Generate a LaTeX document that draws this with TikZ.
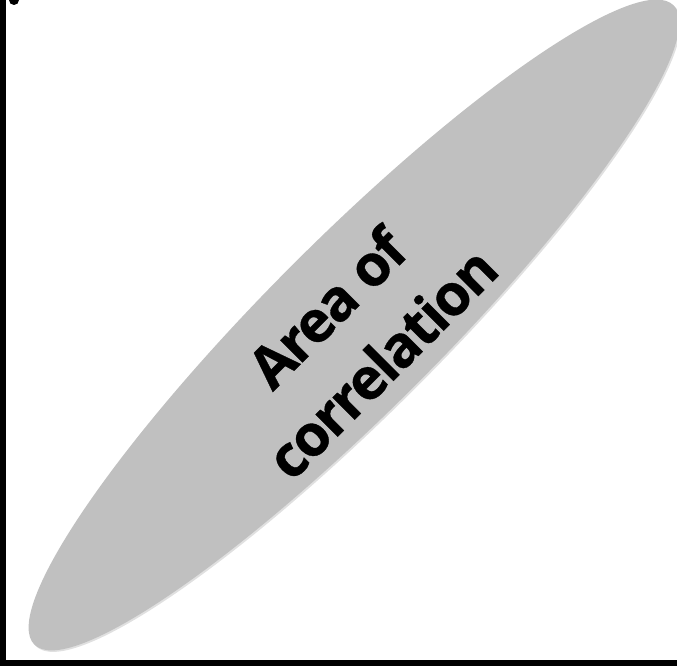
\documentclass[tikz,border=0pt]{standalone}
\usepackage{fontspec}
\setmainfont{Open Sans}
\newfontfamily\areafont{Open Sans}[BoldFeatures={FakeBold=0.6,LetterSpace=-3.5}]
\usetikzlibrary{calc}
\definecolor{areagray}{HTML}{C0C0C0}
\tikzset{axisline/.style={line width=5,line cap=rect},areafill/.style={fill=areagray},areashadow/.style={fill=black!12}}
\begin{document}
\begin{tikzpicture}[x=0.75pt,y=-0.75pt]
\useasboundingbox(0,0)rectangle(677,670);
\fill[areashadow,rotate around={45:(355.5,326.5)}](355.5,326.5)ellipse[x radius=452,y radius=86];
\fill[areafill,rotate around={45:(354,325)}](354,325)ellipse[x radius=452,y radius=86];
\node[rotate=45,align=center,font=\areafont\bfseries\fontsize{43}{58}\selectfont](area)at(354,335){Area of\\correlation};
\draw[axisline](3,0)--(3,663)--(677,663);
\fill(14,0)ellipse[x radius=5,y radius=5];
\end{tikzpicture}
\end{document}
